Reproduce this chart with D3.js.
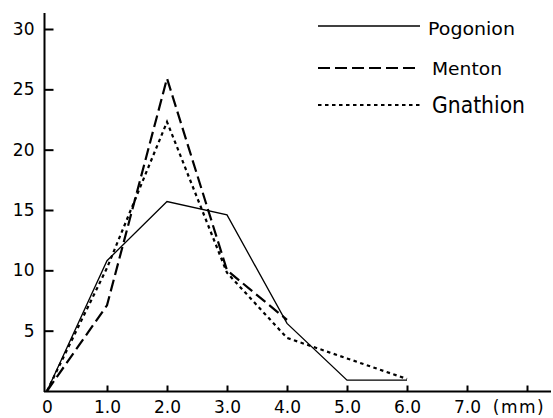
<!DOCTYPE html>
<html>
<head>
<meta charset="utf-8">
<script src="https://cdn.jsdelivr.net/npm/d3@7"></script>
<style>
  html, body { margin: 0; padding: 0; background: #fff; }
  svg { display: block; font-family: "DejaVu Sans", sans-serif; }
</style>
</head>
<body>
<svg id="chart" width="553" height="418"></svg>
<script>
// ---- data ----
const xValues      = [0, 1, 2, 3, 4, 5, 6];
const pogonion     = [0, 10.8, 15.7, 14.6, 5.6, 0.9, 0.9];
const mentonX      = [0, 1, 2, 3, 4];
const menton       = [0, 7.1, 25.9, 10.0, 5.9];
const gnathion     = [0, 10.2, 22.3, 9.8, 4.4, 2.7, 1.0];
const xTickValues  = [0, 1, 2, 3, 4, 5, 6, 7, 8];
const xTickLabels  = ["0", "1.0", "2.0", "3.0", "4.0", "5.0", "6.0", "7.0", ""];
const yTickValues  = [5, 10, 15, 20, 25, 30];
const yTickLabels  = ["5", "10", "15", "20", "25", "30"];
const seriesNames  = ["Pogonion", "Menton", "Gnathion"];
const xUnitLabel   = "(mm)";

const svg = d3.select("#chart");
const x = d3.scaleLinear().domain([0, 8]).range([47, 527]);
const y = d3.scaleLinear().domain([0, 30]).range([391, 29]);

// axes lines
svg.append("line").attr("x1", 44.5).attr("x2", 44.5).attr("y1", 13).attr("y2", 392)
  .attr("stroke", "#000").attr("stroke-width", 2);
svg.append("line").attr("x1", 44).attr("x2", 551).attr("y1", 391.5).attr("y2", 391.5)
  .attr("stroke", "#000").attr("stroke-width", 2);

// y axis ticks
const yAxis = d3.axisLeft(y).tickValues(yTickValues)
  .tickFormat((d, i) => yTickLabels[i]).tickSize(-9).tickSizeOuter(0).tickPadding(10);
const gy = svg.append("g").attr("transform", "translate(44.5,0)").call(yAxis);
gy.select(".domain").remove();
gy.selectAll(".tick line").attr("stroke", "#000").attr("stroke-width", 2);
gy.selectAll(".tick text").attr("font-size", 17).attr("fill", "#000")
  .attr("font-family", "DejaVu Sans, sans-serif");

// x axis ticks
const xAxis = d3.axisBottom(x).tickValues(xTickValues)
  .tickFormat((d, i) => xTickLabels[i]).tickSize(-6).tickSizeOuter(0).tickPadding(9);
const gx = svg.append("g").attr("transform", "translate(0,391.5)").call(xAxis);
gx.select(".domain").remove();
gx.selectAll(".tick line").attr("stroke", "#000").attr("stroke-width", 2)
  .filter(d => d === 0).remove();
gx.selectAll(".tick text").attr("font-size", 17).attr("fill", "#000")
  .attr("font-family", "DejaVu Sans, sans-serif");

svg.append("text").attr("x", 519).attr("y", 412.5).attr("text-anchor", "middle")
  .attr("font-size", 17).attr("letter-spacing", 1.5).text(xUnitLabel);

// series
const line = d3.line().x(d => x(d[0])).y(d => y(d[1]));
const styles = [
  { dash: null, width: 1.3 },
  { dash: "12,5", width: 2.2 },
  { dash: "3.5,3.5", width: 2.2 }
];
const seriesData = [
  xValues.map((v, i) => [v, pogonion[i]]),
  mentonX.map((v, i) => [v, menton[i]]),
  xValues.map((v, i) => [v, gnathion[i]])
];
seriesData.forEach((pts, i) => {
  svg.append("path").datum(pts).attr("d", line)
    .attr("fill", "none").attr("stroke", "#000")
    .attr("stroke-width", styles[i].width)
    .attr("stroke-dasharray", styles[i].dash)
    .attr("stroke-linejoin", "miter");
});

// legend
const legendRows = [
  { ly: 26, ty: 35, tx: 428, size: 18, len: 87 },
  { ly: 68, ty: 75, tx: 432, size: 18, len: 70 },
  { ly: 105, ty: 113, tx: 432, size: 23, len: 93 }
];
legendRows.forEach((r, i) => {
  svg.append("line").attr("x1", 318).attr("x2", 420).attr("y1", r.ly).attr("y2", r.ly)
    .attr("stroke", "#000").attr("stroke-width", styles[i].width)
    .attr("stroke-dasharray", styles[i].dash);
  svg.append("text").attr("x", r.tx).attr("y", r.ty).attr("font-size", r.size)
    .attr("textLength", r.len).attr("lengthAdjust", "spacingAndGlyphs")
    .attr("fill", "#000").text(seriesNames[i]);
});
</script>
</body>
</html>
